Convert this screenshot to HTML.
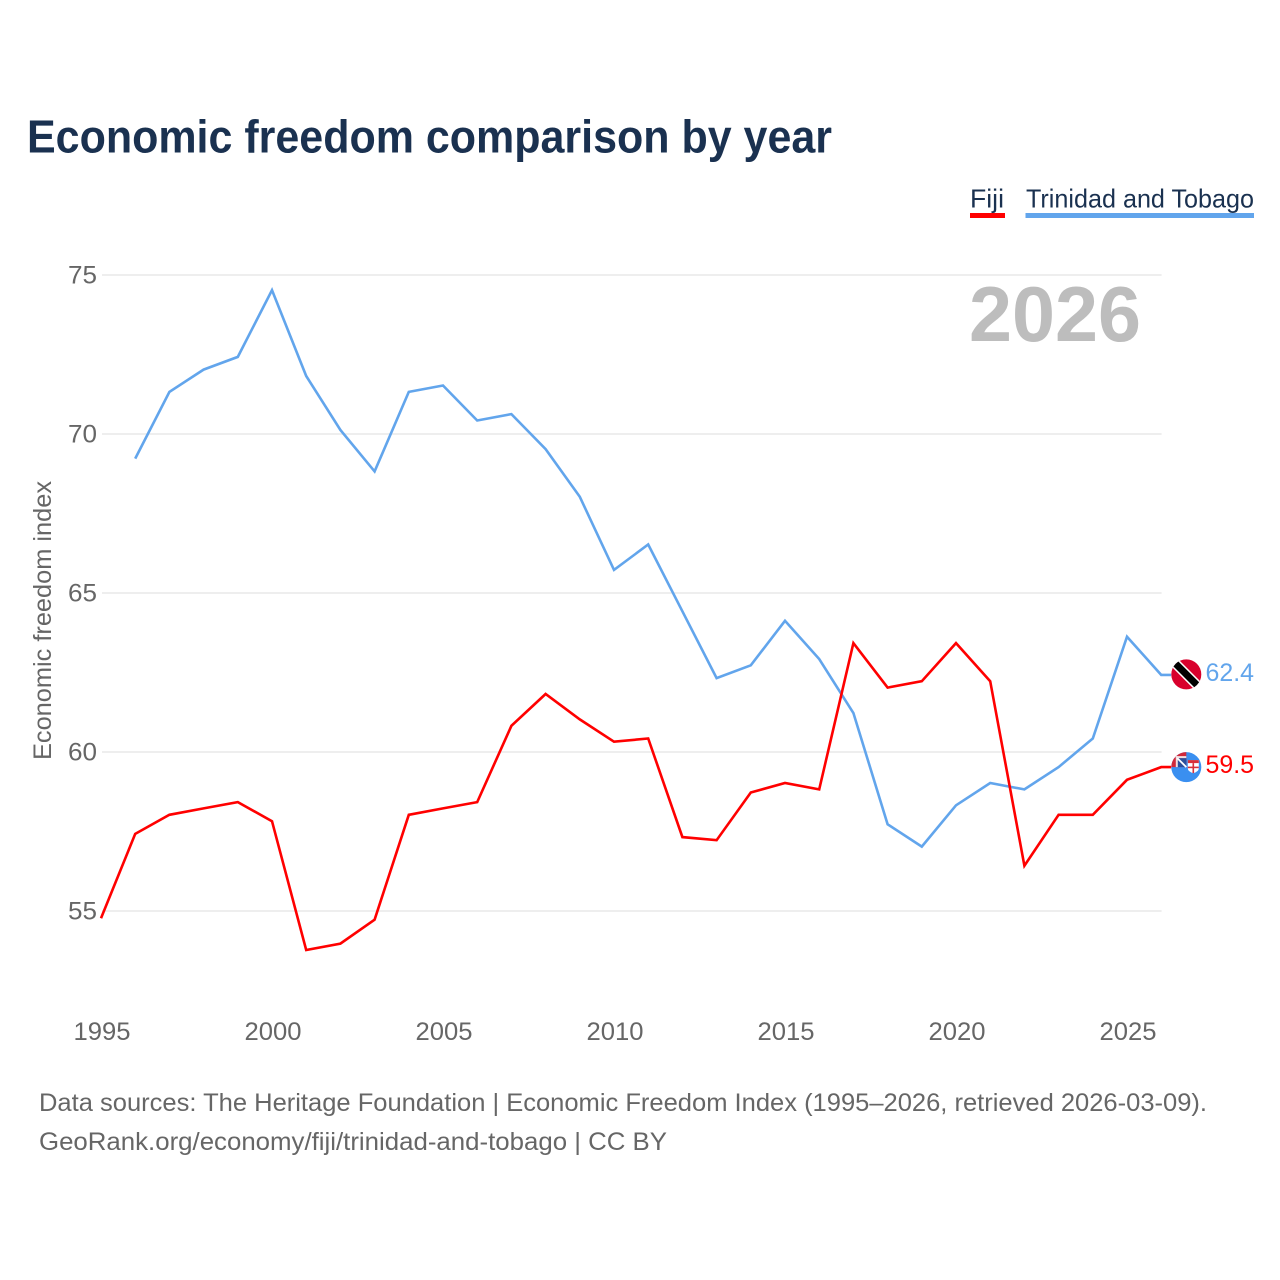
<!DOCTYPE html>
<html lang="en">
<head>
<meta charset="utf-8">
<title>Economic freedom comparison by year</title>
<style>
html,body{margin:0;padding:0;background:#fff;width:1280px;height:1280px;overflow:hidden}
svg{display:block}
text{font-family:"Liberation Sans",sans-serif}
</style>
</head>
<body>
<svg id="chart" width="1280" height="1280" viewBox="0 0 1280 1280" xmlns="http://www.w3.org/2000/svg">
  <rect width="1280" height="1280" fill="#fff"/>
  <text x="27" y="152.500" font-size="46" font-weight="700" fill="#1a3150" textLength="805" lengthAdjust="spacingAndGlyphs">Economic freedom comparison by year</text>

  <g>
    <g>
      <text x="970" y="207.500" font-size="26" fill="#1a3150" textLength="34" lengthAdjust="spacingAndGlyphs">Fiji</text>
      <rect x="970" y="213" width="35" height="5" fill="#ff0000"/>
    </g>
    <g>
      <text x="1026" y="207.500" font-size="26" fill="#1a3150" textLength="228" lengthAdjust="spacingAndGlyphs">Trinidad and Tobago</text>
      <rect x="1025.500" y="213" width="228.500" height="5" fill="#62a5ec"/>
    </g>
  </g>

  <g id="grid"></g>
  <g id="yticks"></g>
  <g id="xticks"></g>

  <text transform="translate(51,620.500) rotate(-90)" text-anchor="middle" font-size="25" fill="#666" textLength="279" lengthAdjust="spacingAndGlyphs">Economic freedom index</text>

  <text x="969" y="341" font-size="78" font-weight="700" fill="#bdbdbd" textLength="172" lengthAdjust="spacingAndGlyphs">2026</text>

  <g id="series"></g>

  <defs>
    <clipPath id="clip-tt"><circle id="clip-tt-c" r="15"/></clipPath>
    <clipPath id="clip-fj"><circle id="clip-fj-c" r="15"/></clipPath>
  </defs>
  <g id="flag-tt"></g>
  <g id="flag-fj"></g>
  <text id="value-tt" font-size="25" fill="#62a5ec"></text>
  <text id="value-fj" font-size="25" fill="#ff0000"></text>

  <text x="39" y="1111" font-size="25" fill="#666" textLength="1168" lengthAdjust="spacingAndGlyphs">Data sources: The Heritage Foundation | Economic Freedom Index (1995–2026, retrieved 2026-03-09).</text>
  <text x="39" y="1150" font-size="25" fill="#666" textLength="628" lengthAdjust="spacingAndGlyphs">GeoRank.org/economy/fiji/trinidad-and-tobago | CC BY</text>
</svg>

<script>
const years = [1995,1996,1997,1998,1999,2000,2001,2002,2003,2004,2005,2006,2007,2008,2009,2010,2011,2012,2013,2014,2015,2016,2017,2018,2019,2020,2021,2022,2023,2024,2025,2026];
const fijiValues = [54.75,57.4,58.0,58.2,58.4,57.8,53.75,53.95,54.7,58.0,58.2,58.4,60.8,61.8,61.0,60.3,60.4,57.3,57.2,58.7,59.0,58.8,63.4,62.0,62.2,63.4,62.2,56.4,58.0,58.0,59.1,59.5];
const trinidadValues = [null,69.2,71.3,72.0,72.4,74.5,71.8,70.1,68.8,71.3,71.5,70.4,70.6,69.5,68.0,65.7,66.5,64.4,62.3,62.7,64.1,62.9,61.2,57.7,57.0,58.3,59.0,58.8,59.5,60.4,63.6,62.4];
const yTickLabels = [55,60,65,70,75];
const xTickLabels = [1995,2000,2005,2010,2015,2020,2025];

const NS = 'http://www.w3.org/2000/svg';
const xScale = function (yr) { return 101 + (yr - 1995) * 34.2; };
const yScale = function (v) { return 910.2 - (v - 55) * 31.8; };
function mk(tag, attrs, parent) {
  const el = document.createElementNS(NS, tag);
  Object.keys(attrs).forEach(function (k) { el.setAttribute(k, attrs[k]); });
  parent.appendChild(el);
  return el;
}

const gridG = document.getElementById('grid');
const yG = document.getElementById('yticks');
yTickLabels.forEach(function (v) {
  const gy = yScale(v) + 0.8;
  const line = mk('line', {x1: 102, x2: 1161.6, y1: gy, y2: gy, stroke: '#e9e9e9', 'stroke-width': 1.6}, gridG);
  
  
  const t = mk('text', {x: 97, y: gy + 8.5, 'text-anchor': 'end', 'font-size': 25, fill: '#666', textLength: 29, lengthAdjust: 'spacingAndGlyphs'}, yG);
  t.textContent = v;
  
  
});

const xG = document.getElementById('xticks');
xTickLabels.forEach(function (yr) {
  const t = mk('text', {x: xScale(yr) + 1, y: 1040, 'text-anchor': 'middle', 'font-size': 25, fill: '#666', textLength: 57, lengthAdjust: 'spacingAndGlyphs'}, xG);
  t.textContent = yr;
  
  
});

function linePath(values) {
  const pts = [];
  values.forEach(function (v, i) {
    if (v !== null) pts.push(xScale(years[i]).toFixed(1) + ',' + yScale(v).toFixed(1));
  });
  const last = values[values.length - 1];
  pts.push((xScale(years[years.length - 1]) + 10).toFixed(1) + ',' + yScale(last).toFixed(1));
  return pts.join(' ');
}
const seriesG = document.getElementById('series');
const ttLine = mk('polyline', {points: linePath(trinidadValues), fill: 'none', stroke: '#62a5ec', 'stroke-width': 2.6, 'stroke-linejoin': 'miter'}, seriesG);


const fjLine = mk('polyline', {points: linePath(fijiValues), fill: 'none', stroke: '#ff0000', 'stroke-width': 2.6, 'stroke-linejoin': 'miter'}, seriesG);



/* End-of-line flags and labels */
const flagX = xScale(2026) + 25.1;
const ttY = yScale(trinidadValues[31]);
const fjY = yScale(fijiValues[31]);
const ttFlagY = ttY - 0.5;
const fjFlagY = fjY;

document.getElementById('clip-tt-c').setAttribute('cx', flagX);
document.getElementById('clip-tt-c').setAttribute('cy', ttFlagY);
document.getElementById('clip-fj-c').setAttribute('cx', flagX);
document.getElementById('clip-fj-c').setAttribute('cy', fjFlagY);

const tt = document.getElementById('flag-tt');
tt.setAttribute('clip-path', 'url(#clip-tt)');
mk('rect', {x: flagX - 16, y: ttFlagY - 16, width: 32, height: 32, fill: '#d8002c'}, tt);
mk('line', {x1: flagX - 16, y1: ttFlagY - 16, x2: flagX + 16, y2: ttFlagY + 16, stroke: '#fff', 'stroke-width': 10}, tt);
mk('line', {x1: flagX - 16, y1: ttFlagY - 16, x2: flagX + 16, y2: ttFlagY + 16, stroke: '#000', 'stroke-width': 7}, tt);

const fj = document.getElementById('flag-fj');
fj.setAttribute('clip-path', 'url(#clip-fj)');
mk('rect', {x: flagX - 16, y: fjFlagY - 16, width: 32, height: 32, fill: '#3a8ff0'}, fj);
/* canton */
mk('rect', {x: flagX - 15, y: fjFlagY - 16, width: 15, height: 16, fill: '#d0283a'}, fj);
mk('rect', {x: flagX - 9, y: fjFlagY - 9, width: 9, height: 9, fill: '#2a4f9c'}, fj);
mk('rect', {x: flagX - 10.500, y: fjFlagY - 11, width: 2, height: 11, fill: '#f2dfe0'}, fj);
mk('rect', {x: flagX - 10.500, y: fjFlagY - 11, width: 10.500, height: 2, fill: '#f2dfe0'}, fj);
mk('line', {x1: flagX - 9, y1: fjFlagY - 9, x2: flagX, y2: fjFlagY, stroke: '#fff', 'stroke-width': 1.8}, fj);
/* shield */
mk('path', {d: 'M' + (flagX + 1.5) + ' ' + (fjFlagY - 7) + 'h11v8q0 3.500-5.500 5q-5.500-1.500-5.500-5z', fill: '#fff'}, fj);
mk('rect', {x: flagX + 1.5, y: fjFlagY - 7, width: 11, height: 3, fill: '#d8303a'}, fj);
mk('rect', {x: flagX + 6.200, y: fjFlagY - 4, width: 1.600, height: 10, fill: '#d8303a'}, fj);
mk('rect', {x: flagX + 1.500, y: fjFlagY - 0.5, width: 11, height: 1.600, fill: '#d8303a'}, fj);

const vt = document.getElementById('value-tt');
vt.setAttribute('x', 1205.500);
vt.setAttribute('y', ttY + 6);
vt.setAttribute('textLength', 48.500);
vt.setAttribute('lengthAdjust', 'spacingAndGlyphs');
vt.textContent = trinidadValues[31].toFixed(1);

const vf = document.getElementById('value-fj');
vf.setAttribute('x', 1205.500);
vf.setAttribute('y', fjY + 6);
vf.setAttribute('textLength', 48.500);
vf.setAttribute('lengthAdjust', 'spacingAndGlyphs');
vf.textContent = fijiValues[31].toFixed(1);
</script>
</body>
</html>
